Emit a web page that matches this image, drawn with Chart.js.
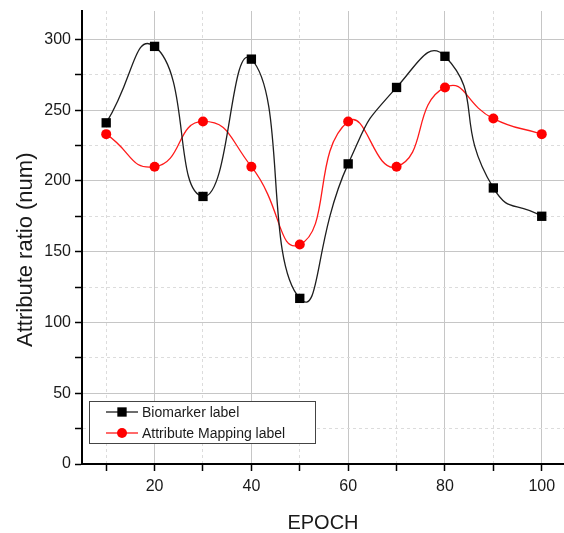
<!DOCTYPE html>
<html>
<head>
<meta charset="utf-8">
<script src="https://cdn.jsdelivr.net/npm/chart.js@4.4.1/dist/chart.umd.min.js"></script>
<style>
  html, body { margin: 0; padding: 0; background: #fff; }
  #wrap { width: 564px; height: 533px; }
</style>
</head>
<body>
<div id="wrap"><canvas id="chart" width="564" height="533"></canvas></div>
<script>
var epochs = [10, 20, 30, 40, 50, 60, 70, 80, 90, 100];
var biomarker = [241, 295, 189, 286, 117, 212, 266, 288, 195, 175];
var attrMapping = [233, 210, 242, 210, 155, 242, 210, 266, 244, 233];
var seriesNames = ['Biomarker label', 'Attribute Mapping label'];
var xMajor = [20, 40, 60, 80, 100];
var xMinor = [10, 30, 50, 70, 90];
var yMajor = [0, 50, 100, 150, 200, 250, 300];
var yMinor = [25, 75, 125, 175, 225, 275];

(function() {
  var fontFamily = '"Liberation Sans", Arial, sans-serif';
  var textColor = '#1a1a1a';
  Chart.defaults.font.family = fontFamily;
  Chart.defaults.color = textColor;

  function toPoints(vals) {
    return epochs.map(function(x, i) { return { x: x, y: vals[i] }; });
  }
  function tickList(major, minor) {
    return major.concat(minor).sort(function(a, b) { return a - b; })
      .map(function(v) { return { value: v }; });
  }
  function isMajor(list, ctx) {
    return ctx.tick && list.indexOf(ctx.tick.value) >= 0;
  }

  // legend box drawn inside plot, bottom-left like the original figure
  var innerLegend = {
    id: 'innerLegend',
    afterDraw: function(chart) {
      var ctx = chart.ctx, area = chart.chartArea;
      var x = area.left + 7, y = area.bottom - 63, w = 226, h = 42;
      ctx.save();
      ctx.fillStyle = '#fff';
      ctx.fillRect(x, y, w, h);
      ctx.strokeStyle = '#444';
      ctx.lineWidth = 1;
      ctx.strokeRect(x + 0.5, y + 0.5, w, h);
      ctx.font = '14px ' + fontFamily;
      ctx.textBaseline = 'middle';
      chart.data.datasets.forEach(function(ds, i) {
        var cy = y + 11 + i * 21;
        ctx.strokeStyle = ds.borderColor;
        ctx.lineWidth = ds.borderWidth;
        ctx.beginPath();
        ctx.moveTo(x + 17, cy);
        ctx.lineTo(x + 49, cy);
        ctx.stroke();
        ctx.fillStyle = ds.pointBackgroundColor;
        ctx.beginPath();
        if (ds.pointStyle === 'rect') {
          var s = ds.pointRadius * Math.SQRT1_2;
          ctx.rect(x + 33 - s, cy - s, 2 * s, 2 * s);
        } else {
          ctx.arc(x + 33, cy, ds.pointRadius, 0, Math.PI * 2);
        }
        ctx.fill();
        ctx.fillStyle = textColor;
        ctx.fillText(ds.label, x + 53, cy + 1);
      });
      ctx.restore();
    }
  };

  new Chart(document.getElementById('chart'), {
    type: 'line',
    data: {
      datasets: [{
        label: seriesNames[0],
        data: toPoints(biomarker),
        borderColor: '#1e1e1e',
        borderWidth: 1.3,
        pointStyle: 'rect',
        pointRadius: 6.6,
        pointBackgroundColor: '#000',
        pointBorderWidth: 0,
        tension: 0.58
      }, {
        label: seriesNames[1],
        data: toPoints(attrMapping),
        borderColor: '#ff1a1a',
        borderWidth: 1.3,
        pointStyle: 'circle',
        pointRadius: 5,
        pointBackgroundColor: '#ff0000',
        pointBorderWidth: 0,
        tension: 0.55
      }]
    },
    options: {
      responsive: false,
      animation: false,
      layout: { autoPadding: false, padding: { top: 11, left: 0, right: 0, bottom: 0 } },
      plugins: {
        legend: { display: false },
        tooltip: { enabled: false }
      },
      scales: {
        x: {
          type: 'linear',
          min: 5,
          max: 104.6,
          afterBuildTicks: function(axis) { axis.ticks = tickList(xMajor, xMinor); },
          afterFit: function(s) {
            s.height = 69;
            s.paddingLeft = 0;
            s.paddingRight = 0;
          },
          ticks: {
            autoSkip: false,
            maxRotation: 0,
            padding: 6,
            font: { size: 16 },
            color: textColor,
            callback: function(v) { return xMajor.indexOf(v) >= 0 ? String(v) : ''; }
          },
          grid: {
            color: function(ctx) { return isMajor(xMajor, ctx) ? '#c6c6c6' : '#dcdcdc'; },
            lineWidth: 1,
            tickColor: '#000',
            tickLength: 7,
            tickWidth: 1.5
          },
          border: {
            color: '#000',
            width: 2,
            dash: function(ctx) { return ctx.tick && !isMajor(xMajor, ctx) ? [3, 3] : []; }
          },
          title: {
            display: true,
            text: 'EPOCH',
            font: { size: 20, lineHeight: 1 },
            color: textColor,
            padding: { top: 0, bottom: 0 }
          }
        },
        y: {
          min: 0,
          max: 320,
          afterBuildTicks: function(axis) { axis.ticks = tickList(yMajor, yMinor); },
          afterFit: function(s) {
            s.width = 82;
            s.paddingTop = 0;
            s.paddingBottom = 0;
          },
          ticks: {
            autoSkip: false,
            padding: 4,
            font: { size: 16 },
            color: textColor,
            callback: function(v) { return yMajor.indexOf(v) >= 0 ? String(v) : ''; }
          },
          grid: {
            color: function(ctx) { return isMajor(yMajor, ctx) ? '#c6c6c6' : '#dcdcdc'; },
            lineWidth: 1,
            tickColor: '#000',
            tickLength: 7,
            tickWidth: 1.5
          },
          border: {
            color: '#000',
            width: 2,
            dash: function(ctx) { return ctx.tick && !isMajor(yMajor, ctx) ? [3, 3] : []; }
          },
          title: {
            display: true,
            // trailing spaces nudge the rotated title down, as in the original
            text: 'Attribute ratio (num)\u00a0\u00a0\u00a0\u00a0',
            font: { size: 22, lineHeight: 1 },
            color: textColor,
            padding: { top: 15, bottom: 0 }
          }
        }
      }
    },
    plugins: [innerLegend]
  });
})();
</script>
</body>
</html>
